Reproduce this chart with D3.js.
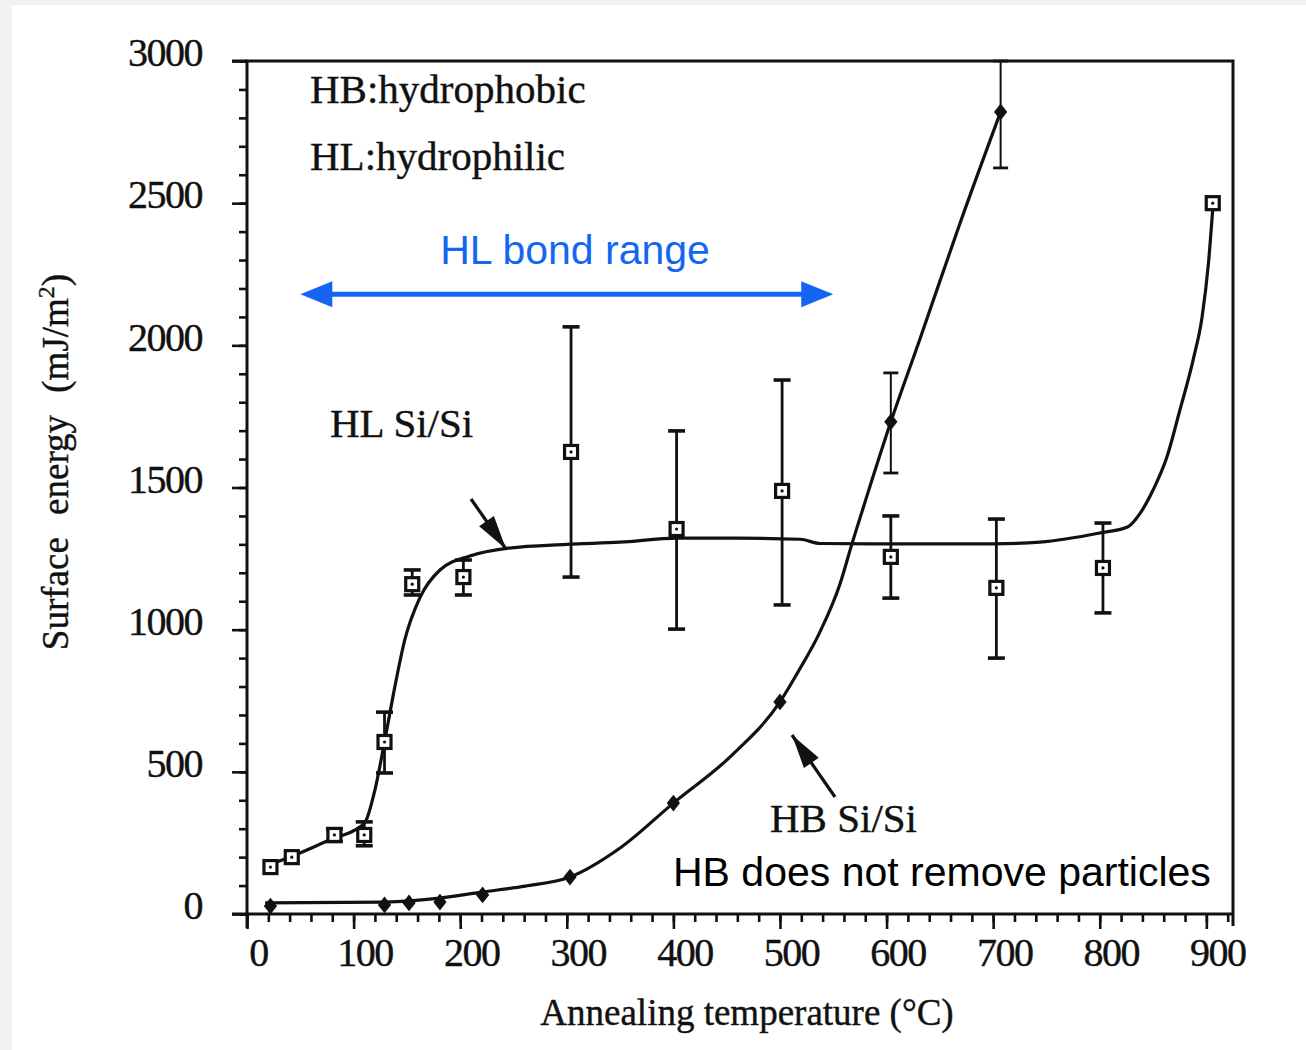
<!DOCTYPE html>
<html>
<head>
<meta charset="utf-8">
<script src="https://cdn.jsdelivr.net/npm/d3@7"></script>
<style>
  html, body { margin: 0; padding: 0; background: #f1f1f1; }
  svg { display: block; }
</style>
</head>
<body>
<div id="chart"></div>
<script>
'use strict';

// HL (hydrophilic) Si/Si : measured points with error bars
const hlTemp   = [22, 42, 82, 110, 129, 155, 203, 304, 403, 502, 604, 703, 803, 906];
const hlEnergy = [165, 200, 278, 278, 605, 1160, 1185, 1625, 1354, 1488, 1256, 1147, 1217, 2500];
const hlLow    = [null, null, 255, 240, 496, 1122, 1122, 1185, 1002, 1087, 1111, 900, 1059, null];
const hlHigh   = [null, null, 300, 324, 710, 1210, 1245, 2065, 1699, 1878, 1400, 1389, 1375, null];

// HB (hydrophobic) Si/Si : measured points with error bars
const hbTemp   = [22, 129, 152, 181, 221, 303, 400, 500, 604, 707];
const hbEnergy = [28, 32, 39, 42, 67, 130, 390, 746, 1731, 2821];
const hbLow    = [null, null, null, null, null, null, null, null, 1551, 2624];
const hbHigh   = [null, null, null, null, null, null, null, null, 1903, 3000];

// hand drawn trend curves
const hlFitTemp   = [17, 40, 82, 101, 111, 120, 129, 139, 148, 162, 181, 209, 246, 300, 350, 404, 460, 519, 538, 600, 700, 744, 800, 826, 838, 850, 863, 875, 888, 896, 902, 906];
const hlFitEnergy = [169, 200, 267, 295, 324, 436, 605, 805, 964, 1111, 1210, 1259, 1287, 1300, 1308, 1322, 1322, 1318, 1303, 1302, 1302, 1308, 1340, 1361, 1410, 1491, 1607, 1770, 1955, 2100, 2290, 2480];
const hbFitTemp   = [17, 129, 181, 220, 261, 303, 350, 400, 453, 500, 518, 537, 556, 568, 584, 604, 631, 668, 707];
const hbFitEnergy = [39, 42, 56, 77, 98, 130, 232, 390, 552, 746, 858, 988, 1157, 1308, 1499, 1731, 2019, 2420, 2821];

// HL bonding window (temperature range) and the height it is drawn at
const hlBondRange = [50, 550];
const hlBondLevel = 2180;

// axis ticks
const xMajor = d3.range(0, 901, 100);
const xMinor = d3.range(0, 921, 20);
const yMajor = d3.range(0, 3001, 500);
const yMinor = d3.range(0, 3001, 100);

const width = 1306, height = 1050;
const serif = "'Liberation Serif', 'Times New Roman', serif";
const sans = "'Liberation Sans', Arial, sans-serif";
const ink = "#111";
const blue = "#1466f2";

const svg = d3.select("#chart").append("svg")
    .attr("width", width)
    .attr("height", height);

svg.append("rect")
    .attr("x", 12).attr("y", 5)
    .attr("width", width - 12).attr("height", height - 5)
    .attr("fill", "#fff");

const x = d3.scaleLinear().domain([0, 925]).range([247, 1233]);
const y = d3.scaleLinear().domain([0, 3000]).range([914, 61]);

// ---- axes ----
const drawAxis = (axis, transform) => {
    const g = svg.append("g").attr("transform", transform).call(axis);
    g.select(".domain").remove();
    g.selectAll(".tick line").attr("stroke", ink).attr("stroke-width", 2.6);
    return g;
};

drawAxis(d3.axisBottom(x).tickValues(xMinor).tickSize(8).tickFormat(""), `translate(0,${y(0)})`);
drawAxis(d3.axisLeft(y).tickValues(yMinor).tickSize(8).tickFormat(""), `translate(${x(0)},0)`);

const xAxisG = drawAxis(d3.axisBottom(x).tickValues(xMajor).tickSize(15).tickPadding(6).tickFormat(d3.format("d")), `translate(0,${y(0)})`);
xAxisG.selectAll(".tick text")
    .attr("font-family", serif).attr("font-size", 40)
    .attr("fill", ink).attr("stroke", ink).attr("stroke-width", 0.4)
    .attr("dx", 11).attr("dy", "0.78em")
    .attr("letter-spacing", -1.5);

const yAxisG = drawAxis(d3.axisLeft(y).tickValues(yMajor).tickSize(15).tickPadding(30).tickFormat(d3.format("d")), `translate(${x(0)},0)`);
yAxisG.selectAll(".tick text")
    .attr("font-family", serif).attr("font-size", 40)
    .attr("fill", ink).attr("stroke", ink).attr("stroke-width", 0.4)
    .attr("dy", "0.12em")
    .attr("letter-spacing", -1.5);

// frame
const frame = [[x(0), y(0) + 14], [x(0), y(3000)], [x(925), y(3000)], [x(925), y(0) + 12]];
svg.append("path")
    .attr("d", d3.line()(frame))
    .attr("fill", "none").attr("stroke", ink).attr("stroke-width", 3);
svg.append("line")
    .attr("x1", x(0) - 15).attr("x2", x(925))
    .attr("y1", y(0)).attr("y2", y(0))
    .attr("stroke", ink).attr("stroke-width", 3);
svg.append("line")
    .attr("x1", x(0) - 15).attr("x2", x(0))
    .attr("y1", y(3000)).attr("y2", y(3000))
    .attr("stroke", ink).attr("stroke-width", 3);

// axis titles
svg.append("text")
    .attr("x", 747).attr("y", 1025)
    .attr("text-anchor", "middle")
    .attr("font-family", serif).attr("font-size", 37).attr("fill", ink)
    .attr("stroke", ink).attr("stroke-width", 0.4)
    .text("Annealing temperature (°C)");

const yTitle = svg.append("text")
    .attr("transform", "translate(68,462) rotate(-90)")
    .attr("text-anchor", "middle")
    .attr("font-family", serif).attr("font-size", 37).attr("fill", ink)
    .attr("stroke", ink).attr("stroke-width", 0.4)
    .attr("word-spacing", 13);
yTitle.append("tspan").text("Surface energy (mJ/m");
yTitle.append("tspan").attr("dy", -14).attr("font-size", 24).text("2");
yTitle.append("tspan").attr("dy", 14).text(")");

// ---- curves ----
const curve = d3.line()
    .x(d => x(d[0]))
    .y(d => y(d[1]))
    .curve(d3.curveMonotoneX);

svg.append("path")
    .attr("d", curve(d3.zip(hlFitTemp, hlFitEnergy)))
    .attr("fill", "none").attr("stroke", ink).attr("stroke-width", 3.2);
svg.append("path")
    .attr("d", curve(d3.zip(hbFitTemp, hbFitEnergy)))
    .attr("fill", "none").attr("stroke", ink).attr("stroke-width", 3.2);

// ---- error bars ----
const errorBars = (temps, lows, highs, capW, sw) => {
    const rows = temps.map((t, i) => ({ t, lo: lows[i], hi: highs[i] })).filter(d => d.lo !== null);
    const g = svg.append("g").attr("stroke", ink).attr("stroke-width", sw);
    g.selectAll(".bar").data(rows).enter().append("line")
        .attr("x1", d => x(d.t)).attr("x2", d => x(d.t))
        .attr("y1", d => y(d.lo)).attr("y2", d => y(d.hi));
    rows.forEach(d => {
        [d.lo, d.hi].forEach(v => {
            g.append("line")
                .attr("x1", x(d.t) - capW / 2).attr("x2", x(d.t) + capW / 2)
                .attr("y1", y(v)).attr("y2", y(v))
                .attr("stroke-width", sw + 0.8);
        });
    });
};

errorBars(hlTemp, hlLow, hlHigh, 17, 2.8);
errorBars(hbTemp, hbLow, hbHigh, 15, 2);

// ---- markers ----
const hlPts = d3.zip(hlTemp, hlEnergy);
svg.selectAll(".hl").data(hlPts).enter().append("rect")
    .attr("x", d => x(d[0]) - 6.5).attr("y", d => y(d[1]) - 6.5)
    .attr("width", 13).attr("height", 13)
    .attr("fill", "#fff").attr("stroke", ink).attr("stroke-width", 3.2);
svg.selectAll(".hldot").data(hlPts).enter().append("circle")
    .attr("cx", d => x(d[0])).attr("cy", d => y(d[1]))
    .attr("r", 1.6).attr("fill", ink);

const diamond = d3.symbol().type(d3.symbolDiamond).size(90);
svg.selectAll(".hb").data(d3.zip(hbTemp, hbEnergy)).enter().append("path")
    .attr("d", diamond)
    .attr("transform", d => `translate(${x(d[0])},${y(d[1])}) scale(1.3,0.95)`)
    .attr("fill", ink);

// ---- annotations ----
const arrowHead = (tip, from, len, half) => {
    const dx = tip[0] - from[0], dy = tip[1] - from[1];
    const l = Math.hypot(dx, dy), ux = dx / l, uy = dy / l;
    const bx = tip[0] - ux * len, by = tip[1] - uy * len;
    return [tip, [bx - uy * half, by + ux * half], [bx + uy * half, by - ux * half]];
};

const blackArrow = (from, tip) => {
    svg.append("line")
        .attr("x1", from[0]).attr("y1", from[1])
        .attr("x2", tip[0]).attr("y2", tip[1])
        .attr("stroke", ink).attr("stroke-width", 3.2);
    svg.append("path")
        .attr("d", d3.line()(arrowHead(tip, from, 34, 9)) + "Z")
        .attr("fill", ink);
};
blackArrow([471, 499], [506, 549]);
blackArrow([835, 797], [792, 735]);

// HL bond range double arrow
const bx0 = x(hlBondRange[0]), bx1 = x(hlBondRange[1]), by = y(hlBondLevel);
svg.append("line")
    .attr("x1", bx0 + 20).attr("x2", bx1 - 20)
    .attr("y1", by).attr("y2", by)
    .attr("stroke", blue).attr("stroke-width", 5);
svg.append("path")
    .attr("d", d3.line()(arrowHead([bx0, by], [bx1, by], 32, 13)) + "Z")
    .attr("fill", blue);
svg.append("path")
    .attr("d", d3.line()(arrowHead([bx1, by], [bx0, by], 32, 13)) + "Z")
    .attr("fill", blue);

svg.append("text")
    .attr("x", 575).attr("y", 264)
    .attr("text-anchor", "middle")
    .attr("font-family", sans).attr("font-size", 41).attr("fill", blue)
    .text("HL bond range");

const serifLabel = (tx, ty, s) => svg.append("text")
    .attr("x", tx).attr("y", ty)
    .attr("font-family", serif).attr("font-size", 41).attr("fill", ink)
    .attr("stroke", ink).attr("stroke-width", 0.4)
    .text(s);

serifLabel(310, 103, "HB:hydrophobic");
serifLabel(310, 170, "HL:hydrophilic");
serifLabel(330, 437, "HL Si/Si");
serifLabel(770, 832, "HB Si/Si");

svg.append("text")
    .attr("x", 673).attr("y", 886)
    .attr("font-family", sans).attr("font-size", 41).attr("fill", "#000")
    .text("HB does not remove particles");
</script>
</body>
</html>
